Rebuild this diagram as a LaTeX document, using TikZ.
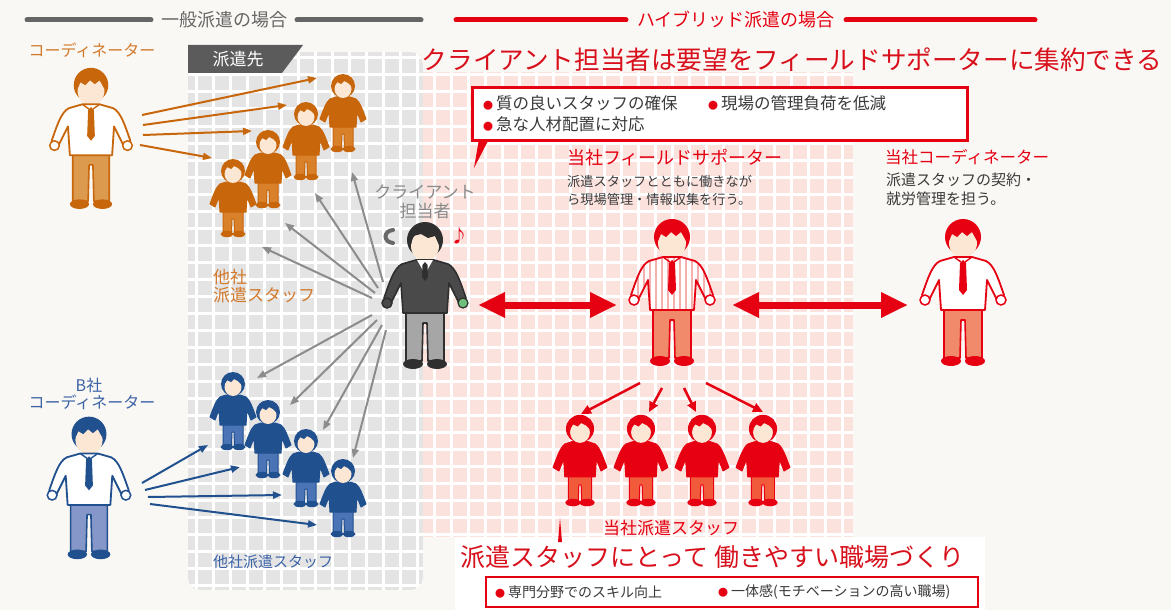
\documentclass[tikz,border=0pt]{standalone}
\usepackage{fontspec}
\setmainfont{Noto Sans CJK JP}
\usetikzlibrary{arrows.meta}

\definecolor{bgcream}{HTML}{FAF8F4}
\definecolor{cellgrey}{HTML}{E4E4E4}
\definecolor{cellpink}{HTML}{FBE2DD}
\definecolor{hdrgrey}{HTML}{666666}
\definecolor{hybred}{HTML}{E50012}
\definecolor{titlered}{HTML}{D8101C}
\definecolor{orangeA}{HTML}{C8660C}
\definecolor{orangeP}{HTML}{DB9A4E}
\definecolor{orangeT}{HTML}{D27A2C}
\definecolor{orangeS}{HTML}{D9802A}
\definecolor{blueA}{HTML}{21508F}
\definecolor{blueP}{HTML}{8596C8}
\definecolor{blueT}{HTML}{3C63A6}
\definecolor{blueS}{HTML}{4A74B6}
\definecolor{redA}{HTML}{E60012}
\definecolor{redP}{HTML}{F08A6A}
\definecolor{redS}{HTML}{F25A3C}
\definecolor{stripe}{HTML}{F6B0AE}
\definecolor{skin}{HTML}{FCE6D4}
\definecolor{suit}{HTML}{4A4A4A}
\definecolor{suitdark}{HTML}{2F2F2F}
\definecolor{slacks}{HTML}{A6A6A6}
\definecolor{arrowgrey}{HTML}{8C8C8C}
\definecolor{textdark}{HTML}{3A3A3A}
\definecolor{clientgrey}{HTML}{8A8A8A}
\definecolor{tabgrey}{HTML}{5B5B5B}
\definecolor{handgreen}{HTML}{6DBF7A}

\newcommand{\redbullet}{{\fontsize{10}{10}\selectfont\color{hybred}●}\hspace{3pt}}

\tikzset{
  % shirt with both arms, head centre at the origin
  torso/.style={insert path={(-9,17) -- (-23,21) .. controls (-31,25) and (-35,38) .. (-41,55)
      -- (-34,60) -- (-24,40) -- (-22,70) -- (22,70) -- (24,40) -- (34,60) -- (41,55)
      .. controls (35,38) and (31,25) .. (23,21) -- (9,17) -- cycle}},
  legs/.style={insert path={(-19,68) -- (19,68) -- (19,118) -- (3,118) -- (2,80) -- (-2,80)
      -- (-3,118) -- (-19,118) -- cycle}},
  % coordinator / supporter: #1 line and hair, #2 trousers, #3 shirt stripes
  pics/bigperson/.style n args={3}{code={
    \fill[#1] (0,-3) circle[radius=18];
    \fill[skin] (0,3) ellipse[x radius=14, y radius=15];
    \fill[#1] (-14,1) -- (-11,-6) -- (-6,-3) -- (-1,-8) -- (4,-4) -- (9,-8) -- (14,1)
      -- (13,-13) -- (-13,-13) -- cycle;
    \filldraw[fill=#2, draw=#1, line width=1.6, line join=round, legs];
    \fill[#1] (-12,121) ellipse[x radius=10, y radius=5];
    \fill[#1] (12,121) ellipse[x radius=10, y radius=5];
    \fill[white, torso];
    \begin{scope}
      \clip[torso];
      \foreach \sx in {-40,-34,...,40} \draw[#3, line width=1.6] (\sx,15) -- (\sx,72);
    \end{scope}
    \draw[#1, line width=1.8, line join=round, torso];
    \filldraw[fill=white, draw=#1, line width=1.5] (-38,60) circle[radius=5];
    \filldraw[fill=white, draw=#1, line width=1.5] (38,60) circle[radius=5];
    \fill[#1] (0,20) -- (-3,23) -- (-4,50) -- (0,55) -- (4,50) -- (3,23) -- cycle;
    \draw[#1, line width=1.4, line join=round] (-9,17) -- (-2,22) (9,17) -- (2,22);
  }},
  % client in a dark suit
  pics/clientperson/.style={code={
    \fill[suitdark] (0,-3) circle[radius=18];
    \fill[skin] (0,3) ellipse[x radius=14, y radius=15];
    \fill[suitdark] (-14,2) -- (-12,-7) -- (-4,-9) -- (3,-5) -- (10,-7) -- (14,2)
      -- (13,-13) -- (-13,-13) -- cycle;
    \filldraw[fill=slacks, draw=suitdark, line width=1.6, line join=round, legs];
    \fill[suitdark] (-12,121) ellipse[x radius=10, y radius=5];
    \fill[suitdark] (12,121) ellipse[x radius=10, y radius=5];
    \filldraw[fill=suit, draw=suitdark, line width=1.6, line join=round, torso];
    \fill[white] (-8,17) -- (8,17) -- (0,31) -- cycle;
    \fill[suitdark] (0,19) -- (-2.5,22) -- (-3,34) -- (0,38) -- (3,34) -- (2.5,22) -- cycle;
    \filldraw[fill=suit, draw=suitdark, line width=1.5] (-38,60) circle[radius=5];
    \filldraw[fill=handgreen, draw=suitdark, line width=1.2] (38,60) circle[radius=5];
  }},
  % dispatched staff member: #1 sweater and hair, #2 trousers
  pics/staffer/.style n args={2}{code={
    \filldraw[fill=#2, draw=#1, line width=1, line join=round] (-10,38) -- (10,38) -- (10,60)
      -- (1.5,60) -- (1,47) -- (-1,47) -- (-1.5,60) -- (-10,60) -- cycle;
    \fill[#1] (-6,62) ellipse[x radius=6.5, y radius=3.2];
    \fill[#1] (6,62) ellipse[x radius=6.5, y radius=3.2];
    \filldraw[fill=#1, draw=#1, line width=1, line join=round] (-7,10) -- (-13,12)
      .. controls (-17,15) and (-20,24) .. (-23,32) -- (-18,35) -- (-14,25) -- (-13,40)
      -- (13,40) -- (14,25) -- (18,35) -- (23,32) .. controls (20,24) and (17,15) .. (13,12)
      -- (7,10) -- cycle;
    \fill[#1] (0,-1) circle[radius=12];
    \fill[skin] (0,2) ellipse[x radius=8.5, y radius=9];
    \fill[#1] (-9,0) -- (-6,-5) -- (-2,-3) -- (1,-6) -- (5,-4) -- (9,0) -- (9,-9) -- (-9,-9) -- cycle;
  }},
  gridline/.style={white, line width=3},
  hdrbar/.style={line width=5, line cap=round},
  thinarrow/.style={line width=2, -{Triangle[length=9pt, width=7pt]}},
  widearrow/.style={draw=hybred, line width=7,
      {Triangle[length=27pt, width=24pt]}-{Triangle[length=27pt, width=24pt]}},
  txt/.style={inner sep=0, font=\fontsize{#1}{#1}\selectfont},
  txt/.default=16,
}

\begin{document}
\begin{tikzpicture}[x=1pt, y=-1pt]
\useasboundingbox (0,0) rectangle (1171,610);
\fill[bgcream] (0,0) rectangle (1171,610);

% ---- client site grid (grey) and hybrid area grid (pink)
\begin{scope}
  \clip[rounded corners=12] (188,52) rectangle (423,590);
  \fill[cellgrey] (188,52) rectangle (423,590);
  \foreach \gx in {196,213,...,423} \draw[gridline] (\gx,52) -- (\gx,590);
  \foreach \gy in {58,75,...,590} \draw[gridline] (188,\gy) -- (423,\gy);
\end{scope}
\begin{scope}
  \clip (423,72) rectangle (853,537);
  \fill[cellpink] (423,72) rectangle (853,537);
  \foreach \gx in {434,451,...,853} \draw[gridline] (\gx,72) -- (\gx,537);
  \foreach \gy in {75,92,...,537} \draw[gridline] (423,\gy) -- (853,\gy);
\end{scope}
\fill[white] (455,537) rectangle (985,610);

% ---- section headers
\draw[hdrbar, hdrgrey] (27,20) -- (151,20);
\draw[hdrbar, hdrgrey] (297,20) -- (421,20);
\node[txt=18, text=hdrgrey] (hdrgeneral) at (224,20) {一般派遣の場合};
\draw[hdrbar, hybred] (456,20) -- (626,20);
\draw[hdrbar, hybred] (846,20) -- (1035,20);
\node[txt=18, text=hybred] (hdrhybrid) at (736,20) {ハイブリッド派遣の場合};

\node[txt=25.6, text=titlered] (toptitle) at (792,60) {クライアント担当者は要望をフィールドサポーターに集約できる};

% ---- client site tab
\fill[tabgrey] (188,45) -- (303,45) -- (282,73) -- (188,73) -- cycle;
\node[txt=17, text=white] (tabtext) at (238,59) {派遣先};

% ---- anchor points of the connectors
\foreach \n/\sx/\sy/\tx/\ty in {1/142/115/317/78, 2/143/125/287/105, 3/143/135/252/131, 4/140/145/212/158}{
  \coordinate (os\n) at (\sx,\sy); \coordinate (ot\n) at (\tx,\ty);}
\foreach \n/\sx/\sy/\tx/\ty in {1/142/483/208/445, 2/145/490/240/467, 3/148/497/282/495, 4/150/504/317/525}{
  \coordinate (bs\n) at (\sx,\sy); \coordinate (bt\n) at (\tx,\ty);}
\foreach \n/\sx/\sy/\tx/\ty in {1/383/282/352/172, 2/378/288/315/193, 3/375/293/285/223, 4/372/298/262/247,
    5/372/315/257/378, 6/377/320/290/405, 7/382/325/323/430, 8/386/330/353/458}{
  \coordinate (gs\n) at (\sx,\sy); \coordinate (gt\n) at (\tx,\ty);}
\foreach \n/\sx/\sy/\tx/\ty in {1/640/383/581/414, 2/662/388/649/412, 3/684/388/696/412, 4/706/383/763/412}{
  \coordinate (rs\n) at (\sx,\sy); \coordinate (rt\n) at (\tx,\ty);}
\coordinate (clientR) at (478,305);
\coordinate (supportL) at (617,305);
\coordinate (supportR) at (732,305);
\coordinate (coordL) at (908,305);

% ---- connectors
\foreach \n in {1,...,4} \draw[thinarrow, draw=orangeA] (os\n) -- (ot\n);
\foreach \n in {1,...,4} \draw[thinarrow, draw=blueA] (bs\n) -- (bt\n);
\foreach \n in {1,...,8} \draw[thinarrow, draw=arrowgrey] (gs\n) -- (gt\n);
\foreach \n in {1,...,4} \draw[hybred, line width=2.5, -{Triangle[length=10pt, width=9pt]}] (rs\n) -- (rt\n);
\draw[widearrow] (clientR) -- (supportL);
\draw[widearrow] (supportR) -- (coordL);

% ---- people
\pic[scale=0.96] at (91,88) {bigperson={orangeA}{orangeP}{white}};
\foreach \px/\py in {343/87, 306/115, 268/143, 233/172} \pic at (\px,\py) {staffer={orangeA}{orangeS}};
\pic[scale=0.97] at (89,437) {bigperson={blueA}{blueP}{white}};
\foreach \px/\py in {233/385, 268/413, 306/442, 343/472} \pic at (\px,\py) {staffer={blueA}{blueS}};
\pic at (425,243) {clientperson};
\pic at (672,240) {bigperson={redA}{redP}{stripe}};
\pic at (963,240) {bigperson={redA}{redP}{white}};
\foreach \px in {580,641,702,763} \pic[scale=1.17] at (\px,430) {staffer={redA}{redS}};

% ---- phone and music note by the client
\draw[clientgrey!75!black, line width=4, line cap=round] (393,230) .. controls (383,231) and (383,242) .. (393,243);
\node[txt=18, text=hybred] (note) at (459,236) {♪};

% ---- labels
\node[txt=16, text=orangeT] (coordlabel) at (92,50) {コーディネーター};
\node[txt=17, text=orangeT, anchor=west] (othera) at (213,277) {他社};
\node[txt=17, text=orangeT, anchor=west] (otherb) at (213,295) {派遣スタッフ};
\node[txt=16, text=blueT] (bco) at (89,385) {B社};
\node[txt=16, text=blueT] (bcoord) at (92,402) {コーディネーター};
\node[txt=15, text=blueT] (bstaff) at (273,562) {他社派遣スタッフ};
\node[txt=17, text=clientgrey] (clienta) at (425,192) {クライアント};
\node[txt=17, text=clientgrey] (clientb) at (425,211) {担当者};

\node[txt=18, text=hybred, anchor=west] (fslabel) at (567,158) {当社フィールドサポーター};
\node[txt=13.2, text=textdark, anchor=west] (fsdesca) at (567,181) {派遣スタッフとともに働きなが};
\node[txt=13.2, text=textdark, anchor=west] (fsdescb) at (567,199) {ら現場管理・情報収集を行う。};
\node[txt=16.5, text=hybred, anchor=west] (colabel) at (885,157) {当社コーディネーター};
\node[txt=15, text=textdark, anchor=west] (codesca) at (886,180) {派遣スタッフの契約・};
\node[txt=15, text=textdark, anchor=west] (codescb) at (886,199) {就労管理を担う。};
\node[txt=17, text=hybred] (ownstaff) at (671,528) {当社派遣スタッフ};

% ---- merits for the client
\fill[hybred] (479,139) -- (489,139) -- (474,168) -- cycle;
\filldraw[fill=white, draw=hybred, line width=3] (472,88) rectangle (967,140);
\node[txt=16.5, text=textdark, anchor=west] (merita) at (483,103) {\redbullet 質の良いスタッフの確保};
\node[txt=16.5, text=textdark, anchor=west] (meritb) at (708,103) {\redbullet 現場の管理負荷を低減};
\node[txt=16.5, text=textdark, anchor=west] (meritc) at (483,124) {\redbullet 急な人材配置に対応};

% ---- merits for the staff
\fill[hybred] (558,542) -- (562,542) -- (560,518) -- cycle;
\node[txt=25, text=titlered] (bottomtitle) at (712,557) {派遣スタッフにとって\hspace{6pt}働きやすい職場づくり};
\filldraw[fill=white, draw=hybred, line width=2.5] (486,577) rectangle (978,607);
\node[txt=14, text=textdark, anchor=west] (gaina) at (495,592) {\redbullet 専門分野でのスキル向上};
\node[txt=14, text=textdark, anchor=west] (gainb) at (718,592) {\redbullet 一体感(モチベーションの高い職場)};
\end{tikzpicture}
\end{document}
